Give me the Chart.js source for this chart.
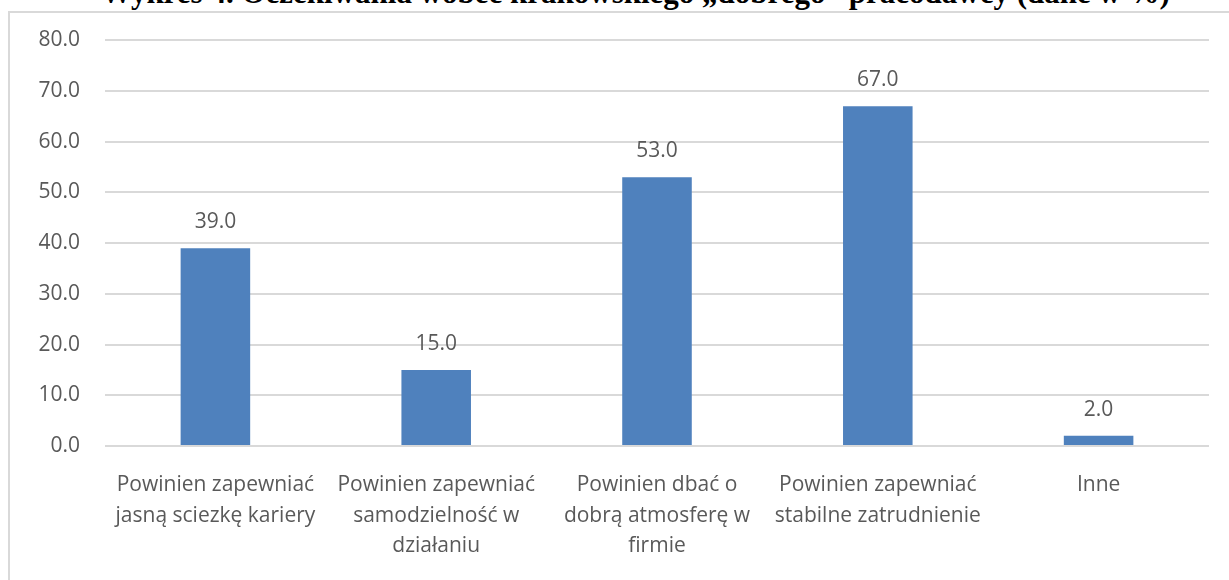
<!DOCTYPE html>
<html>
<head>
<meta charset="utf-8">
<script src="https://cdn.jsdelivr.net/npm/chart.js@4.4.1/dist/chart.umd.min.js"></script>
<style>
  html, body { margin: 0; padding: 0; background: #fff; overflow: hidden; }
  #wrap { position: relative; width: 1229px; height: 580px; }
  #frame { position: absolute; left: 8px; top: 11px; width: 1240px; height: 600px; border: 2px solid #D9D9D9; box-sizing: border-box; }
  #title { position: absolute; left: 0; width: 1271px; text-align: center; top: -23px; font: bold 31px "Liberation Serif", serif; line-height: 1; color: #000; white-space: nowrap; }
  canvas { position: absolute; left: 0; top: 0; }
</style>
</head>
<body>
<div id="wrap">
  <div id="frame"></div>
  <div id="title">Wykres 4. Oczekiwania wobec krakowskiego „dobrego” pracodawcy (dane w %)</div>
  <canvas id="chart" width="1229" height="580"></canvas>
</div>
<script>
const categories = [
  ['Powinien zapewniać', 'jasną sciezkę kariery'],
  ['Powinien zapewniać', 'samodzielność w', 'działaniu'],
  ['Powinien dbać o', 'dobrą atmosferę w', 'firmie'],
  ['Powinien zapewniać', 'stabilne zatrudnienie'],
  ['Inne']
];
const values = [39.0, 15.0, 53.0, 67.0, 2.0];
const yTicks = { min: 0, max: 80, step: 10 };

const textColor = '#595959';
const font = { family: '"Open Sans", sans-serif', size: 21, lineHeight: 1.45 };

// value labels above each bar
const barLabels = {
  id: 'barLabels',
  afterDatasetsDraw(chart) {
    const { ctx } = chart;
    const meta = chart.getDatasetMeta(0);
    ctx.save();
    ctx.font = '21px "Open Sans", sans-serif';
    ctx.fillStyle = textColor;
    ctx.textAlign = 'center';
    ctx.textBaseline = 'middle';
    meta.data.forEach((bar, i) => {
      ctx.fillText(values[i].toFixed(1), bar.x, bar.y - 26);
    });
    ctx.restore();
  }
};

new Chart(document.getElementById('chart'), {
  type: 'bar',
  data: {
    labels: categories,
    datasets: [{
      data: values,
      backgroundColor: '#4F81BD',
      borderWidth: 0,
      categoryPercentage: 1,
      barPercentage: 0.315
    }]
  },
  options: {
    responsive: false,
    animation: false,
    layout: { padding: { top: 40, right: 20, left: 0, bottom: 0 } },
    plugins: { legend: { display: false }, tooltip: { enabled: false } },
    scales: {
      x: {
        grid: { display: false, drawTicks: false },
        border: { display: false },
        ticks: { color: textColor, font, padding: 24, maxRotation: 0, autoSkip: false },
        afterFit: (s) => { s.height = 134; }
      },
      y: {
        min: yTicks.min,
        max: yTicks.max,
        grid: { color: '#D9D9D9', lineWidth: 2, drawTicks: false },
        border: { display: false },
        ticks: {
          stepSize: yTicks.step,
          color: textColor,
          font,
          padding: 25,
          callback: (v) => Number(v).toFixed(1)
        },
        afterFit: (s) => { s.width = 105; }
      }
    }
  },
  plugins: [barLabels]
});
</script>
</body>
</html>
